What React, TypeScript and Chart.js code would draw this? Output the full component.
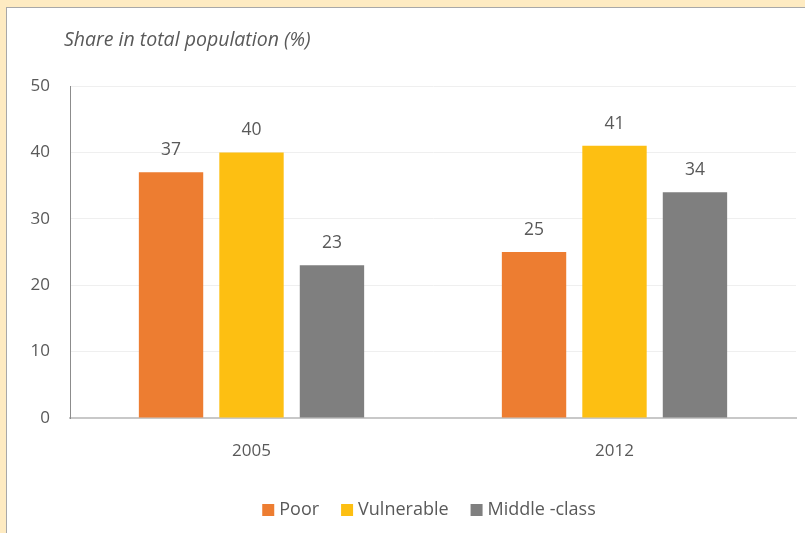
import React, { useEffect, useRef } from "react";
import { Chart, registerables } from "chart.js";

Chart.register(...registerables);

const categories = ["2005", "2012"];
const poor = [37, 25];
const vulnerable = [40, 41];
const middleClass = [23, 34];
const seriesNames = ["Poor", "Vulnerable", "Middle -class"];
const seriesColors = ["#ED7D31", "#FDBF12", "#7F7F7F"];
const yMin = 0;
const yMax = 50;
const yStep = 10;
const titleText = "Share in total population (%)";

const FONT = "'Open Sans', 'Noto Sans', sans-serif";
const TEXT = "#595959";

const valueLabels = {
  id: "valueLabels",
  afterDatasetsDraw(chart: any) {
    const ctx = chart.ctx;
    ctx.save();
    ctx.font = `17.5px ${FONT}`;
    ctx.fillStyle = TEXT;
    ctx.textAlign = "center";
    ctx.textBaseline = "middle";
    chart.data.datasets.forEach((ds: any, i: number) => {
      const meta = chart.getDatasetMeta(i);
      meta.data.forEach((el: any, j: number) => {
        ctx.fillText(String(ds.data[j]), el.x, el.y - 22);
      });
    });
    ctx.restore();
  },
};

const titlePlugin = {
  id: "leftTitle",
  afterDraw(chart: any) {
    const ctx = chart.ctx;
    ctx.save();
    ctx.font = `italic 19.5px ${FONT}`;
    ctx.fillStyle = TEXT;
    ctx.textAlign = "left";
    ctx.textBaseline = "middle";
    ctx.fillText(titleText, 64, 40);
    ctx.restore();
  },
};

const legendPlugin = {
  id: "customLegend",
  afterDraw(chart: any) {
    const ctx = chart.ctx;
    const area = chart.chartArea;
    ctx.save();
    ctx.font = `18px ${FONT}`;
    const box = 12;
    const gapText = 5;
    const gapItem = 22;
    const items = chart.data.datasets.map((ds: any) => ({
      label: ds.label,
      color: ds.backgroundColor,
      w: ctx.measureText(ds.label).width,
    }));
    const total =
      items.reduce((s: number, it: any) => s + box + gapText + it.w, 0) + gapItem * (items.length - 1);
    let x = (area.left + area.right) / 2 - total / 2 - 4;
    const cy = 510;
    ctx.textAlign = "left";
    ctx.textBaseline = "middle";
    items.forEach((it: any) => {
      ctx.fillStyle = it.color;
      ctx.fillRect(x, cy - box / 2, box, box);
      x += box + gapText;
      ctx.fillStyle = TEXT;
      ctx.fillText(it.label, x, cy);
      x += it.w + gapItem;
    });
    ctx.restore();
  },
};

export default function App() {
  const ref = useRef<HTMLCanvasElement | null>(null);

  useEffect(() => {
    if (!ref.current) return;
    const chart = new Chart(ref.current, {
      type: "bar",
      data: {
        labels: categories,
        datasets: [poor, vulnerable, middleClass].map((d, i) => ({
          label: seriesNames[i],
          data: d,
          backgroundColor: seriesColors[i],
          borderWidth: 0,
          categoryPercentage: 0.665,
          barPercentage: 0.8,
        })),
      },
      options: {
        responsive: false,
        animation: false,
        layout: { padding: { top: 86, right: 9, left: 0, bottom: 46 } },
        plugins: {
          tooltip: { enabled: false },
          title: { display: false },
          legend: { display: false },
        },
        scales: {
          x: {
            grid: { display: false, drawTicks: false },
            border: { display: true, color: "#C8C8C8", width: 2 },
            ticks: { color: TEXT, font: { family: FONT, size: 17 }, padding: 23 },
            afterFit: (s: any) => {
              s.height = 69;
            },
          },
          y: {
            min: yMin,
            max: yMax,
            grid: { color: "#EFEFEF", drawTicks: false },
            border: { display: true, color: "#8C8C8C", width: 1 },
            ticks: { stepSize: yStep, color: TEXT, font: { family: FONT, size: 17 }, padding: 20 },
            afterFit: (s: any) => {
              s.width = 70;
            },
          },
        },
      },
      plugins: [valueLabels, titlePlugin, legendPlugin],
    });
    return () => chart.destroy();
  }, []);

  return (
    <div style={{ position: "fixed", left: 0, top: 0, width: 805, height: 533, background: "#FEEBC2", overflow: "hidden" }}>
      <div
        style={{
          position: "absolute",
          left: 6,
          top: 7,
          right: 0,
          bottom: 0,
          background: "#FFFFFF",
          borderLeft: "1px solid #A8A8A8",
          borderTop: "1px solid #A8A8A8",
        }}
      />
      <canvas ref={ref} width={805} height={533} style={{ position: "absolute", left: 0, top: 0, width: 805, height: 533 }} />
    </div>
  );
}
